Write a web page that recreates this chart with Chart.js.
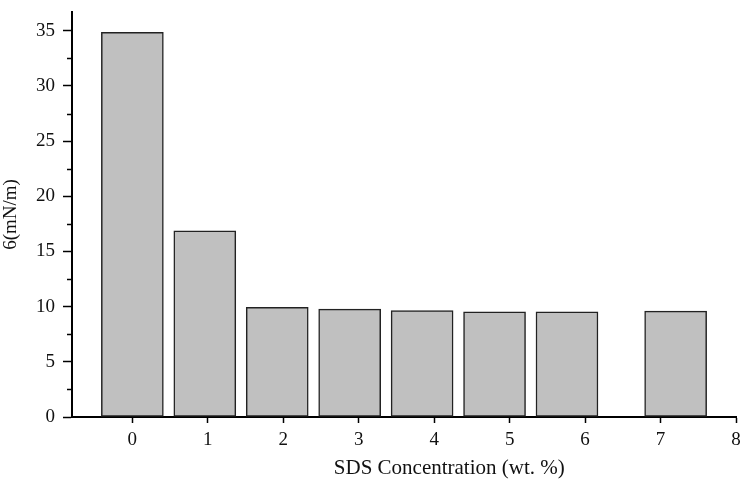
<!DOCTYPE html>
<html>
<head>
<meta charset="utf-8">
<script src="https://cdn.jsdelivr.net/npm/chart.js@4"></script>
<style>
  html, body { margin: 0; padding: 0; background: #fff; }
  #wrap { width: 749px; height: 489px; }
</style>
</head>
<body>
<div id="wrap"><canvas id="myChart" width="749" height="489"></canvas></div>
<script>
// data
const barPositions = [0, 0.96, 1.92, 2.88, 3.84, 4.80, 5.76, 7.20];
const tension = [34.85, 16.88, 9.93, 9.77, 9.65, 9.53, 9.53, 9.59];
const xTicks = [0, 1, 2, 3, 4, 5, 6, 7, 8];
const yMajor = [0, 5, 10, 15, 20, 25, 30, 35];
const yMinor = [2.5, 7.5, 12.5, 17.5, 22.5, 27.5, 32.5];
const xTitle = 'SDS Concentration (wt. %)';
const yTitle = '6(mN/m)';

const FONT = '"Liberation Serif", "Times New Roman", serif';

// short minor ticks on the y axis + off-centre x title
const extras = {
  id: 'extras',
  afterDraw(chart) {
    const c = chart.ctx;
    const y = chart.scales.y;
    const area = chart.chartArea;
    c.save();
    c.strokeStyle = '#000';
    c.lineWidth = 1.5;
    yMinor.forEach(v => {
      const py = Math.round(y.getPixelForValue(v)) + 0.5;
      c.beginPath();
      c.moveTo(area.left, py);
      c.lineTo(area.left - 5, py);
      c.stroke();
    });
    c.fillStyle = '#111';
    c.font = '21px ' + FONT;
    c.textAlign = 'center';
    c.textBaseline = 'middle';
    c.fillText(xTitle, chart.scales.x.getPixelForValue(4.2), 468);
    c.restore();
  }
};

new Chart(document.getElementById('myChart'), {
  type: 'bar',
  data: {
    datasets: [{
      data: barPositions.map((x, i) => ({ x, y: tension[i] })),
      backgroundColor: '#c0c0c0',
      borderColor: '#222',
      borderWidth: 1.5,
      borderSkipped: false,
      barThickness: 62
    }]
  },
  options: {
    responsive: false,
    animation: false,
    layout: { padding: { top: 12, right: 13, left: 0, bottom: 0 } },
    plugins: { legend: { display: false }, tooltip: { enabled: false } },
    scales: {
      x: {
        type: 'linear',
        offset: false,
        min: -0.8,
        max: 8,
        afterBuildTicks: s => { s.ticks = xTicks.map(v => ({ value: v })); },
        afterFit: s => { s.height = 72; },
        border: { display: true, color: '#000', width: 2 },
        grid: { display: true, offset: false, drawOnChartArea: false, drawTicks: true, tickLength: 6, tickWidth: 1.5, tickColor: '#000' },
        ticks: { color: '#111', padding: 6, maxRotation: 0, font: { family: FONT, size: 19 } }
      },
      y: {
        min: 0,
        max: 36.7,
        afterBuildTicks: s => { s.ticks = yMajor.map(v => ({ value: v })); },
        afterFit: s => { s.width = 72; s.paddingTop = 0; s.paddingBottom = 0; },
        border: { display: true, color: '#000', width: 2 },
        grid: { display: true, drawOnChartArea: false, drawTicks: true, tickLength: 9, tickWidth: 1.5, tickColor: '#000' },
        ticks: { color: '#111', padding: 8, font: { family: FONT, size: 19 } },
        title: { display: true, text: yTitle, color: '#111', padding: { top: 0, bottom: 0 }, font: { family: FONT, size: 19 } }
      }
    }
  },
  plugins: [extras]
});
</script>
</body>
</html>
